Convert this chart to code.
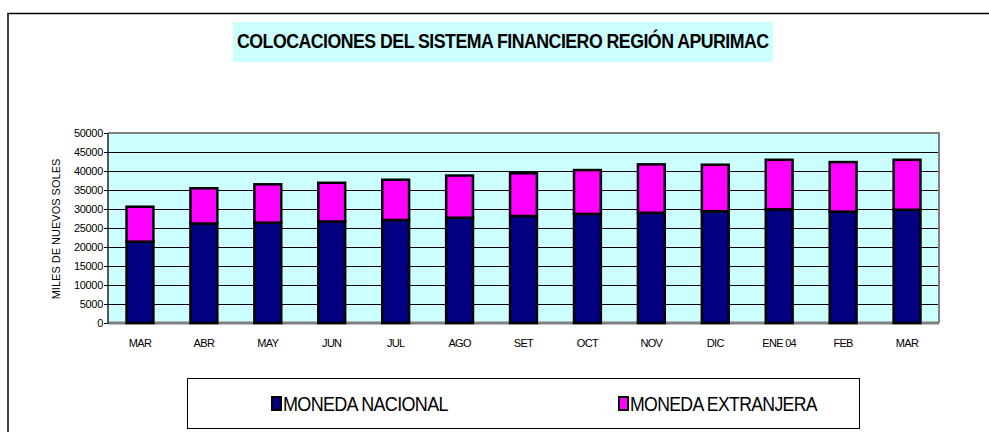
<!DOCTYPE html>
<html>
<head>
<meta charset="utf-8">
<script src="https://cdn.jsdelivr.net/npm/d3@7"></script>
<style>
  body { margin: 0; background: #fff; }
  text { font-family: 'Liberation Sans', Arial, sans-serif; }
</style>
</head>
<body>
<div id="chart"></div>
<script>
const months = ['MAR', 'ABR', 'MAY', 'JUN', 'JUL', 'AGO', 'SET', 'OCT', 'NOV', 'DIC', 'ENE 04', 'FEB', 'MAR ']
const nacional = [21400, 26200, 26400, 26700, 27100, 27700, 28150, 28700, 29000, 29400, 29900, 29300, 29800]
const extranjera = [9200, 9250, 10100, 10200, 10600, 11100, 11250, 11550, 12750, 12250, 13050, 13050, 13150]
const yTicks = [0, 5000, 10000, 15000, 20000, 25000, 30000, 35000, 40000, 45000, 50000]
const seriesNames = ['MONEDA NACIONAL', 'MONEDA EXTRANJERA']
const seriesColors = ['#000080', '#ff00ff']

const W = 989
const H = 432
const plot = { left: 108, right: 939, top: 133, bottom: 323 }

const svg = d3
  .select('#chart')
  .append('svg')
  .attr('width', W)
  .attr('height', H)

// squeeze a text horizontally to a given width (the original uses a narrow face)
function squeeze(sel, x0, y0, w) {
  const len = sel.node().getComputedTextLength()
  sel.attr('transform', 'translate(' + x0 + ',' + y0 + ') scale(' + (w / len) + ',1)')
}

// outer frame (cut off on right and bottom)
svg
  .append('path')
  .attr('d', 'M8,432 L8,13.5 L989,13.5')
  .attr('fill', 'none')
  .attr('stroke', '#000')
  .attr('stroke-width', 1.5)

// title
svg
  .append('rect')
  .attr('x', 233)
  .attr('y', 22)
  .attr('width', 540)
  .attr('height', 40)
  .attr('fill', '#ccffff')

const title = svg
  .append('text')
  .attr('font-size', 20)
  .attr('font-weight', 'bold')
  .attr('letter-spacing', -0.6)
  .text('COLOCACIONES DEL SISTEMA FINANCIERO REGIÓN  APURIMAC')
squeeze(title, 237, 48, 532)

const data = months.map((m, i) => ({ month: m, nac: nacional[i], ext: extranjera[i] }))

const x = d3
  .scaleBand()
  .domain(months)
  .range([plot.left, plot.right])
  .paddingInner(0.58)
  .paddingOuter(0.29)

const y = d3
  .scaleLinear()
  .domain([0, 50000])
  .range([plot.bottom, plot.top])

// plot background
svg
  .append('rect')
  .attr('x', plot.left)
  .attr('y', plot.top)
  .attr('width', plot.right - plot.left)
  .attr('height', plot.bottom - plot.top)
  .attr('fill', '#ccffff')

// y labels with small ticks
const yAxis = d3
  .axisLeft(y)
  .tickValues(yTicks)
  .tickSize(4)
  .tickFormat(d3.format('d'))

const ya = svg
  .append('g')
  .attr('transform', 'translate(' + plot.left + ',0)')
  .call(yAxis)

ya.select('.domain').remove()
ya.selectAll('text')
  .attr('font-size', 11)
  .attr('font-family', 'Liberation Sans, Arial, sans-serif')
  .attr('letter-spacing', -0.3)
  .attr('fill', '#000')
  .attr('x', -5)
ya.selectAll('line').attr('stroke', '#000')

// gridlines
svg
  .append('g')
  .selectAll('line')
  .data(yTicks.filter(d => d > 0 && d < 50000))
  .enter()
  .append('line')
  .attr('x1', plot.left)
  .attr('x2', plot.right)
  .attr('y1', d => Math.round(y(d)) + 0.5)
  .attr('y2', d => Math.round(y(d)) + 0.5)
  .attr('stroke', '#000')
  .attr('stroke-width', 1)

// plot border
svg
  .append('path')
  .attr('d', 'M' + plot.left + ',' + plot.top + ' L' + plot.right + ',' + plot.top + ' L' + plot.right + ',' + plot.bottom)
  .attr('fill', 'none')
  .attr('stroke', '#808080')
  .attr('stroke-width', 2)

svg
  .append('line')
  .attr('x1', plot.left)
  .attr('x2', plot.right)
  .attr('y1', plot.bottom)
  .attr('y2', plot.bottom)
  .attr('stroke', '#808080')
  .attr('stroke-width', 3)

svg
  .append('line')
  .attr('x1', plot.left)
  .attr('x2', plot.left)
  .attr('y1', plot.top)
  .attr('y2', plot.bottom)
  .attr('stroke', '#222')
  .attr('stroke-width', 1.5)

// stacked bars
const bars = svg.append('g')

bars
  .selectAll('.nac')
  .data(data)
  .enter()
  .append('rect')
  .attr('class', 'nac')
  .attr('x', d => x(d.month))
  .attr('width', x.bandwidth())
  .attr('y', d => y(d.nac))
  .attr('height', d => y(0) - y(d.nac))
  .attr('fill', seriesColors[0])
  .attr('stroke', '#000')
  .attr('stroke-width', 2.5)

bars
  .selectAll('.ext')
  .data(data)
  .enter()
  .append('rect')
  .attr('class', 'ext')
  .attr('x', d => x(d.month))
  .attr('width', x.bandwidth())
  .attr('y', d => y(d.nac + d.ext))
  .attr('height', d => y(d.nac) - y(d.nac + d.ext))
  .attr('fill', seriesColors[1])
  .attr('stroke', '#000')
  .attr('stroke-width', 2.5)

// x labels
svg
  .append('g')
  .selectAll('text')
  .data(months)
  .enter()
  .append('text')
  .attr('x', d => x(d) + x.bandwidth() / 2)
  .attr('y', 347)
  .attr('text-anchor', 'middle')
  .attr('font-size', 11)
  .attr('letter-spacing', -0.7)
  .text(d => d.trim())

// y title
svg
  .append('text')
  .attr('transform', 'translate(60,229) rotate(-90)')
  .attr('text-anchor', 'middle')
  .attr('font-size', 11)
  .text('MILES DE NUEVOS SOLES')

// legend
svg
  .append('rect')
  .attr('x', 187.5)
  .attr('y', 378.5)
  .attr('width', 672)
  .attr('height', 50)
  .attr('fill', '#fff')
  .attr('stroke', '#000')
  .attr('stroke-width', 1)

const legendX = [271, 618]
const legendTextW = [165, 187]

seriesNames.forEach((name, i) => {
  svg
    .append('rect')
    .attr('x', legendX[i] + 1)
    .attr('y', 397)
    .attr('width', 9)
    .attr('height', 13)
    .attr('fill', seriesColors[i])
    .attr('stroke', '#000')
    .attr('stroke-width', 2)

  const t = svg
    .append('text')
    .attr('font-size', 21)
    .attr('letter-spacing', -0.8)
    .text(name)
  squeeze(t, legendX[i] + 12, 411, legendTextW[i])
})
</script>
</body>
</html>
